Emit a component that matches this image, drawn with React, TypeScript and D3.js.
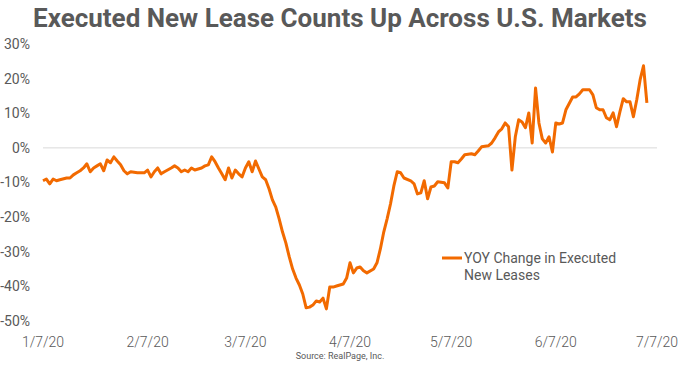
import React, { useEffect, useRef } from "react";
import * as d3 from "d3";

// YOY change in executed new leases
const startDate = new Date(2020, 0, 7);
const daysSinceStart = [
  0, 1, 2, 3, 4, 5, 7, 8, 9, 10, 11, 12, 13, 14, 15, 16, 17, 18, 19, 20, 21, 22, 23, 24, 25, 26,
  28, 29, 30, 31, 32, 33, 34, 35, 36, 38, 39, 40, 41, 42, 43, 44, 45, 46, 47, 48, 49, 50, 51, 52,
  53, 54, 55, 56, 57, 58, 59, 60, 61, 62, 63, 64, 65, 66, 67, 68, 69, 70, 71, 72, 73, 74, 75, 76,
  77, 78, 79, 80, 81, 82, 83, 84, 85, 86, 87, 89, 90, 91, 92, 93, 94, 95, 96, 98, 99, 100, 101,
  102, 103, 104, 105, 106, 107, 109, 110, 111, 112, 113, 114, 115, 116, 117, 119, 120, 121, 122,
  123, 124, 125, 127, 128, 129, 130, 132, 133, 134, 135, 136, 137, 138, 139, 140, 141, 142, 143,
  144, 145, 146, 147, 148, 149, 150, 151, 152, 153, 154, 155, 157, 158, 159, 160, 162, 163, 164,
  165, 166, 167, 168, 169, 170, 171, 172, 173, 174, 175, 176, 177, 178, 179,
];
const yoyChange = [
  -9.5, -9.0, -10.4, -9.0, -9.5, -9.2, -8.7, -8.7, -7.8, -7.2,
  -6.6, -5.8, -4.6, -6.9, -5.8, -5.2, -4.6, -6.6, -3.5, -4.3,
  -2.6, -3.8, -4.9, -6.6, -7.5, -6.9, -7.2, -7.2, -7.2, -6.4,
  -8.4, -6.9, -5.8, -7.5, -6.9, -5.8, -5.2, -5.8, -6.9, -6.4,
  -6.9, -5.8, -6.4, -6.1, -5.8, -5.2, -4.9, -2.6, -4.0, -5.8,
  -7.5, -9.2, -5.8, -8.7, -6.4, -7.5, -8.4, -5.8, -4.0, -6.9,
  -3.8, -6.1, -8.4, -9.2, -11.8, -15.0, -17.1, -20.5, -24.3, -27.5,
  -31.5, -35.0, -37.6, -39.6, -42.2, -46.2, -46.0, -45.4, -44.2, -44.5,
  -43.4, -46.5, -40.2, -40.2, -39.9, -39.3, -37.6, -33.2, -36.1, -34.7,
  -34.4, -35.5, -36.1, -35.0, -33.2, -29.2, -24.3, -20.5, -16.2, -11.0,
  -6.9, -7.2, -8.7, -9.5, -10.4, -13.3, -13.0, -9.5, -14.7, -11.3,
  -11.0, -9.8, -10.1, -11.6, -4.0, -4.0, -4.3, -3.2, -2.0, -1.7,
  -2.0, -0.9, 0.3, 0.6, 1.4, 2.9, 4.6, 5.5, 7.2, 6.1,
  -6.4, 3.2, 8.1, 7.5, 5.8, 10.1, 1.4, 17.3, 7.2, 2.6,
  1.4, 3.2, -1.2, 7.2, 6.9, 7.2, 11.0, 14.7, 14.7, 15.6,
  16.8, 16.8, 15.3, 11.6, 11.0, 11.0, 8.7, 8.1, 10.1, 6.1,
  10.4, 14.2, 13.3, 13.3, 9.0, 13.9, 19.7, 23.7, 13.0,
];

const xTickDates = ["1/7/20", "2/7/20", "3/7/20", "4/7/20", "5/7/20", "6/7/20", "7/7/20"];
const yTicks = [30, 20, 10, 0, -10, -20, -30, -40, -50];

const title = "Executed New Lease Counts Up Across U.S. Markets";
const legendLines = ["YOY Change in Executed", "New Leases"];
const source = "Source: RealPage, Inc.";

const width = 680;
const height = 365;
const orange = "#f26a00";
const grey = "#595959";
const font = "Roboto, sans-serif";

const App = () => {
  const svgRef = useRef<SVGSVGElement | null>(null);

  useEffect(() => {
    const svg = d3.select(svgRef.current);
    svg.selectAll("*").remove();

    const parse = d3.timeParse("%m/%d/%y");
    const x = d3
      .scaleTime()
      .domain([parse(xTickDates[0])!, parse(xTickDates[xTickDates.length - 1])!])
      .range([43, 657]);
    const y = d3.scaleLinear().domain([-50, 30]).range([321, 44]);

    const points = daysSinceStart.map((d, i) => ({
      date: d3.timeDay.offset(startDate, d),
      value: yoyChange[i],
    }));

    // title
    svg
      .append("text")
      .attr("x", width / 2)
      .attr("y", 27)
      .attr("text-anchor", "middle")
      .attr("font-family", font)
      .attr("font-weight", 700)
      .attr("font-size", 26)
      .attr("fill", grey)
      .text(title);

    // y labels
    svg
      .append("g")
      .selectAll("text")
      .data(yTicks)
      .join("text")
      .attr("x", 30)
      .attr("y", (d) => y(d))
      .attr("dy", "0.35em")
      .attr("text-anchor", "end")
      .attr("font-family", font)
      .attr("font-size", 14)
      .attr("fill", grey)
      .text((d) => `${d}%`);

    // zero line
    svg
      .append("line")
      .attr("x1", x.range()[0])
      .attr("x2", x.range()[1])
      .attr("y1", y(0))
      .attr("y2", y(0))
      .attr("stroke", "#d9d9d9")
      .attr("stroke-width", 1);

    // x labels
    svg
      .append("g")
      .selectAll("text")
      .data(xTickDates)
      .join("text")
      .attr("x", (d) => x(parse(d)!))
      .attr("y", 347)
      .attr("text-anchor", "middle")
      .attr("font-family", font)
      .attr("font-weight", 300)
      .attr("font-size", 14)
      .attr("fill", grey)
      .text((d) => d);

    // series
    const line = d3
      .line<{ date: Date; value: number }>()
      .x((d) => x(d.date))
      .y((d) => y(d.value));
    svg
      .append("path")
      .attr("d", line(points))
      .attr("fill", "none")
      .attr("stroke", orange)
      .attr("stroke-width", 3)
      .attr("stroke-linejoin", "round");

    // legend
    svg
      .append("line")
      .attr("x1", 442)
      .attr("x2", 462)
      .attr("y1", 258)
      .attr("y2", 258)
      .attr("stroke", orange)
      .attr("stroke-width", 3);
    svg
      .append("g")
      .selectAll("text")
      .data(legendLines)
      .join("text")
      .attr("x", 464)
      .attr("y", (d, i) => 263 + i * 17)
      .attr("font-family", font)
      .attr("font-size", 14)
      .attr("fill", grey)
      .text((d) => d);

    // source
    svg
      .append("text")
      .attr("x", width / 2)
      .attr("y", 359)
      .attr("text-anchor", "middle")
      .attr("font-family", font)
      .attr("font-size", 9)
      .attr("fill", grey)
      .text(source);
  }, []);

  return (
    <svg
      ref={svgRef}
      width={width}
      height={height}
      style={{ position: "absolute", left: 0, top: 0, background: "#fff" }}
    ></svg>
  );
};

export default App;
